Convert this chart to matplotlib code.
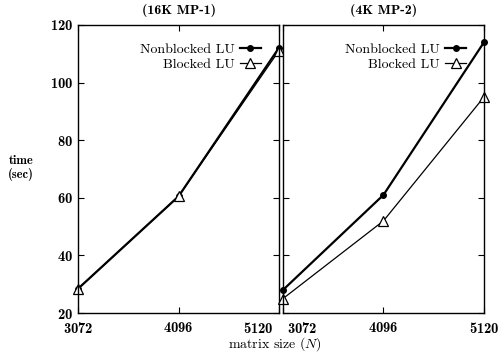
import matplotlib
matplotlib.use("Agg")
import matplotlib.pyplot as plt
import matplotlib.transforms as mtransforms
from matplotlib.legend_handler import HandlerLine2D

# matrix sizes and run times (sec)
sizes = [3072, 4096, 5120]
mp1_nonblocked = [28.5, 60.5, 112]
mp1_blocked = [28.5, 60.5, 111]
mp2_nonblocked = [28, 61, 114]
mp2_blocked = [25, 52, 95]
panel_titles = ["(16K MP-1)", "(4K MP-2)"]

plt.rcParams['font.family'] = ['cmr10', 'DejaVu Serif']
plt.rcParams['mathtext.fontset'] = 'cm'
plt.rcParams['axes.formatter.use_mathtext'] = True


class MarkerLeftHandler(HandlerLine2D):
    # put the legend marker at the left end of the line sample
    def get_xdata(self, legend, xdescent, ydescent, width, height, fontsize):
        xdata = [-xdescent, -xdescent + width]
        xmark = [-xdescent + 0.2 * width]
        return xdata, xmark


fig = plt.figure(figsize=(4.98, 3.55), dpi=100)
ax1 = fig.add_axes([0.157, 0.118, 0.403, 0.812])
ax2 = fig.add_axes([0.568, 0.118, 0.404, 0.812])

data = [(mp1_nonblocked, mp1_blocked), (mp2_nonblocked, mp2_blocked)]
for ax, (nb, bl), title in zip([ax1, ax2], data, panel_titles):
    l1, = ax.plot(sizes, nb, color='black', lw=1.6, marker='o', ms=4,
                  label='Nonblocked LU', clip_on=False)
    l2, = ax.plot(sizes, bl, color='black', lw=0.9, marker='^', ms=7,
                  mfc='white', mec='black', mew=0.9, label='Blocked LU', clip_on=False)
    ax.set_xlim(3072, 5120)
    ax.set_ylim(20, 120)
    ax.set_xticks(sizes)
    ax.set_yticks([20, 40, 60, 80, 100, 120])
    ax.tick_params(direction='in', top=True, right=True, length=4,
                   width=0.8, labelsize=10.5)
    ax.tick_params(axis='x', pad=6)
    for lab in ax.get_xticklabels() + ax.get_yticklabels():
        lab.set_family('cmb10')
    for s in ax.spines.values():
        s.set_linewidth(1.0)
    ax.set_title(title, fontsize=10, family='cmb10', pad=8)
    ax.legend(handler_map={l1: MarkerLeftHandler(), l2: MarkerLeftHandler()},
              loc='upper right', frameon=False, markerfirst=False,
              handlelength=1.5, handletextpad=0.4, labelspacing=0.2,
              fontsize=10, borderaxespad=0.9)

ax2.tick_params(labelleft=False)

# keep the shared-edge tick labels apart
lab = ax1.get_xticklabels()[-1]
lab.set_ha('right')
lab.set_transform(lab.get_transform() + mtransforms.ScaledTranslation(-5 / 100, 0, fig.dpi_scale_trans))
lab = ax2.get_xticklabels()[0]
lab.set_ha('left')
lab.set_transform(lab.get_transform() + mtransforms.ScaledTranslation(4 / 100, 0, fig.dpi_scale_trans))

fig.text(0.042, 0.527, "time\n(sec)", ha='center', va='center', fontsize=9,
         linespacing=1.1, family='cmb10')
fig.text(0.553, 0.031, "matrix size ($N$)", ha='center', va='center', fontsize=10)

fig.savefig("out.png", dpi=100)
